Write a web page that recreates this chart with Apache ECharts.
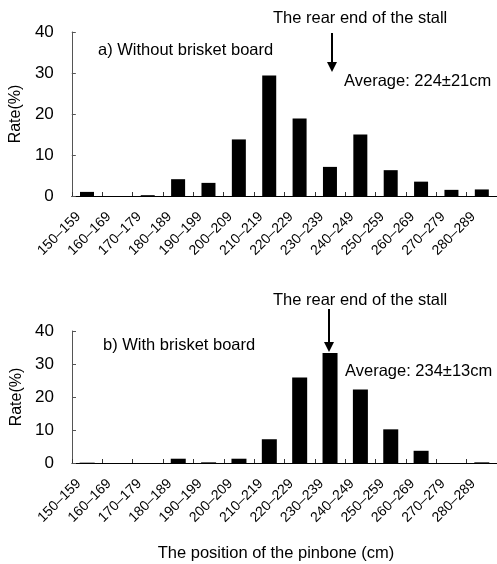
<!DOCTYPE html>
<html>
<head>
<meta charset="utf-8">
<script src="https://cdn.jsdelivr.net/npm/echarts@6/dist/echarts.min.js"></script>
<style>html,body{margin:0;padding:0;background:#fff}#c{width:497px;height:564px}</style>
</head>
<body>
<div id="c"></div>
<script>
const categories = ['150–159','160–169','170–179','180–189','190–199','200–209','210–219','220–229','230–239','240–249','250–259','260–269','270–279','280–289'];
const withoutBoard = [1.0, 0, 0.2, 4.1, 3.2, 13.8, 29.4, 18.9, 7.1, 15.0, 6.3, 3.5, 1.5, 1.6];
const withBoard = [0.1, 0, 0, 1.3, 0.2, 1.3, 7.2, 25.9, 33.3, 22.3, 10.2, 3.7, 0, 0.2];
const yTicks = [0, 10, 20, 30, 40];
const xTitle = 'The position of the pinbone (cm)';
const yTitle = 'Rate(%)';

const FONT = 'Liberation Sans';
const chart = echarts.init(document.getElementById('c'), null, {renderer: 'canvas'});

function xAxis(gi) {
  return {
    type: 'category', gridIndex: gi, data: categories,
    axisLine: {lineStyle: {color: '#000', width: 1}},
    axisTick: {show: true, inside: true, length: 4, lineStyle: {color: '#333'}},
    axisLabel: {rotate: 45, margin: 10, padding: [0, 12, 0, 0], fontFamily: FONT, fontSize: 14, color: '#000', interval: 0}
  };
}
function yAxis(gi) {
  return {
    type: 'value', gridIndex: gi, min: yTicks[0], max: yTicks[yTicks.length - 1], interval: 10,
    name: yTitle, nameLocation: 'middle', nameGap: 46, nameRotate: 90,
    nameTextStyle: {fontFamily: FONT, fontSize: 16, color: '#000'},
    axisLine: {show: true, lineStyle: {color: '#555', width: 1}},
    axisTick: {show: true, inside: true, length: 4, lineStyle: {color: '#555'}},
    axisLabel: {fontFamily: FONT, fontSize: 17, color: '#000', margin: 18},
    splitLine: {show: false}
  };
}
function txt(x, y, s, align) {
  return {type: 'text', style: {x: x, y: y, text: s, fontFamily: FONT, fontSize: 16.5, fill: '#000', textAlign: align || 'left', textVerticalAlign: 'middle'}};
}
function arrow(x, y1, y2) {
  return [
    {type: 'line', shape: {x1: x, y1: y1, x2: x, y2: y2 - 8}, style: {stroke: '#000', lineWidth: 2}},
    {type: 'polygon', shape: {points: [[x - 5, y2 - 10], [x + 5, y2 - 10], [x, y2]]}, style: {fill: '#000'}}
  ];
}

chart.setOption({
  animation: false,
  grid: [
    {left: 70, top: 32, width: 427, height: 164},
    {left: 72, top: 331, width: 426, height: 132}
  ],
  xAxis: [xAxis(0), xAxis(1)],
  yAxis: [yAxis(0), yAxis(1)],
  series: [
    {type: 'bar', xAxisIndex: 0, yAxisIndex: 0, data: withoutBoard, barWidth: 14, itemStyle: {color: '#000'}},
    {type: 'bar', xAxisIndex: 1, yAxisIndex: 1, data: withBoard, barWidth: 15, itemStyle: {color: '#000'}}
  ],
  graphic: [
    txt(273, 18, 'The rear end of the stall'),
    txt(98, 50, 'a) Without brisket board'),
    txt(344, 81, 'Average: 224±21cm'),
    txt(273, 300, 'The rear end of the stall'),
    txt(103, 345, 'b) With brisket board'),
    txt(345, 371, 'Average: 234±13cm'),
    txt(276, 553, xTitle, 'center'),
    ...arrow(332, 33, 72),
    ...arrow(329, 309, 352)
  ]
});
</script>
</body>
</html>
